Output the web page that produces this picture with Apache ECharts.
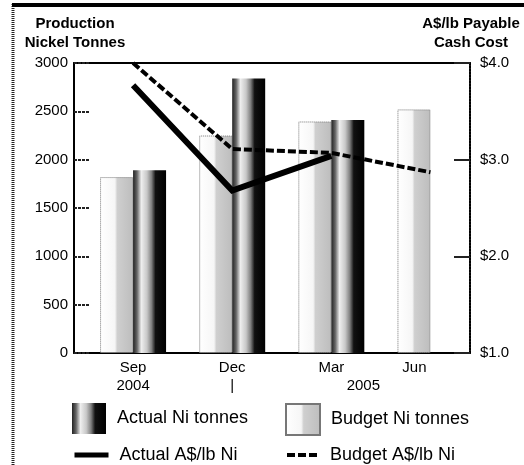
<!DOCTYPE html>
<html><head><meta charset="utf-8">
<script src="https://cdn.jsdelivr.net/npm/echarts@6/dist/echarts.min.js"></script>
<style>html,body{margin:0;padding:0;background:#fff}#c{width:524px;height:465px}</style>
</head><body><div id="c"></div>
<script>
// ---- data ----
const categories = ['Sep', 'Dec', 'Mar', 'Jun'];
const yearLabels = ['2004', '|', '2005', ''];
const budgetTonnes = [1820, 2250, 2395, 2520];
const actualTonnes = [1890, 2840, 2410, null];
const actualCost = [3.77, 2.68, 3.04, null];
const budgetCost = [4.0, 3.11, 3.07, 2.87];
const leftAxisRange = [0, 3000, 500];
const rightAxisRange = [1, 4, 1];
const leftAxisTitle = 'Production\nNickel Tonnes';
const rightAxisTitle = 'A$/lb Payable\nCash Cost';
const seriesNames = ['Budget Ni tonnes', 'Actual Ni tonnes', 'Actual A$/lb Ni', 'Budget A$/lb Ni'];

const FONT = '"Liberation Sans", Arial, sans-serif';
const chart = echarts.init(document.getElementById('c'), null, {renderer: 'canvas'});

const budgetFill = new echarts.graphic.LinearGradient(0, 0, 1, 0, [
  {offset: 0, color: '#ffffff'}, {offset: 0.45, color: '#f6f6f6'},
  {offset: 0.52, color: '#cfcfcf'}, {offset: 1, color: '#bdbdbd'}
]);
const actualFill = new echarts.graphic.LinearGradient(0, 0, 1, 0, [
  {offset: 0, color: '#222'}, {offset: 0.12, color: '#666'},
  {offset: 0.25, color: '#eeeeee'}, {offset: 0.42, color: '#c8c8c8'},
  {offset: 0.56, color: '#808080'}, {offset: 0.68, color: '#111'},
  {offset: 1, color: '#000'}
]);

const legendBase = {
  orient: 'horizontal', padding: 0, itemGap: 0, selectedMode: false,
  textStyle: {fontFamily: FONT, fontSize: 18, color: '#000', padding: [0, 0, 0, 6]}
};
const titleStyle = {fontFamily: FONT, fontWeight: 'bold', fontSize: 15, lineHeight: 19,
  fill: '#000', align: 'center', verticalAlign: 'top'};
const hiddenAxis = {show: false, axisLine: {show: false, onZero: false}, axisTick: {show: false},
  axisLabel: {show: false}, splitLine: {show: false}};

const option = {
  backgroundColor: '#fff',
  animation: false,
  textStyle: {fontFamily: FONT},
  grid: [
    {left: 74, right: 54, top: 63, bottom: 112},
    {left: 83.5, right: 44, top: 63, bottom: 112}
  ],
  xAxis: [
    {gridIndex: 0, type: 'value', min: 0, max: 1, position: 'bottom',
      axisLine: {show: true, onZero: false, lineStyle: {color: '#000', width: 2}},
      axisTick: {show: false}, axisLabel: {show: false}, splitLine: {show: false}},
    {gridIndex: 0, type: 'value', min: 0, max: 1, position: 'top',
      axisLine: {show: true, onZero: false, lineStyle: {color: '#000', width: 2}},
      axisTick: {show: false}, axisLabel: {show: false}, splitLine: {show: false}},
    {gridIndex: 1, type: 'category', data: categories, position: 'bottom',
      axisLine: {show: false, onZero: false}, axisTick: {show: false}, splitLine: {show: false},
      axisLabel: {
        margin: 6, color: '#000',
        formatter: function (v, i) {
          const top = (i === 3) ? '{mj|' + v + '}' : '{m|' + v + '}';
          const yr = yearLabels[i];
          const bottom = (i === 2) ? '{yp|' + yr + '}' : '{y|' + (yr || ' ') + '}';
          return top + '\n' + bottom;
        },
        rich: {
          m: {fontSize: 15, lineHeight: 18, fontFamily: FONT, color: '#000'},
          mj: {fontSize: 15, lineHeight: 18, fontFamily: FONT, color: '#000', padding: [0, 32, 0, 0]},
          y: {fontSize: 15, lineHeight: 18, fontFamily: FONT, color: '#000'},
          yp: {fontSize: 15, lineHeight: 18, fontFamily: FONT, color: '#000', padding: [0, 0, 0, 64]}
        }
      }}
  ],
  yAxis: [
    {gridIndex: 0, type: 'value', position: 'left',
      min: leftAxisRange[0], max: leftAxisRange[1], interval: leftAxisRange[2],
      axisLine: {show: true, onZero: false, lineStyle: {color: '#000', width: 2}},
      axisTick: {show: true, inside: true, length: 16, lineStyle: {color: '#222', width: 2, type: [3, 1]}},
      axisLabel: {margin: 6, fontSize: 15, color: '#000', fontFamily: FONT,
        formatter: function (v) { return String(v); }},
      splitLine: {show: false}},
    {gridIndex: 0, type: 'value', position: 'right',
      min: rightAxisRange[0], max: rightAxisRange[1], interval: rightAxisRange[2],
      axisLine: {show: true, onZero: false, lineStyle: {color: '#000', width: 2, type: [2, 1]}},
      axisTick: {show: true, inside: true, length: 16, lineStyle: {color: '#222', width: 2}},
      axisLabel: {margin: 10, fontSize: 15, color: '#000', fontFamily: FONT,
        formatter: function (v) { return '$' + v.toFixed(1); }},
      splitLine: {show: false}},
    Object.assign({gridIndex: 1, type: 'value', position: 'left',
      min: leftAxisRange[0], max: leftAxisRange[1], interval: leftAxisRange[2]}, hiddenAxis),
    Object.assign({gridIndex: 1, type: 'value', position: 'right',
      min: rightAxisRange[0], max: rightAxisRange[1], interval: rightAxisRange[2]}, hiddenAxis)
  ],
  legend: [
    Object.assign({}, legendBase, {data: [{name: seriesNames[1], icon: 'rect'}], left: 72, top: 403, itemWidth: 34, itemHeight: 31}),
    Object.assign({}, legendBase, {data: [{name: seriesNames[0], icon: 'rect'}], left: 285, top: 403, itemWidth: 34, itemHeight: 31}),
    Object.assign({}, legendBase, {data: [seriesNames[2]], left: 72, top: 446, itemWidth: 34, itemHeight: 14,
      itemStyle: {opacity: 0}, lineStyle: {width: 5, color: '#000'}}),
    Object.assign({}, legendBase, {data: [seriesNames[3]], left: 285, top: 446, itemWidth: 32, itemHeight: 14,
      itemStyle: {opacity: 0}, lineStyle: {width: 4, color: '#000', type: [8, 3]}})
  ],
  series: [
    {name: seriesNames[0], type: 'bar', xAxisIndex: 2, yAxisIndex: 2, data: budgetTonnes,
      barWidth: 33, barGap: '0%',
      itemStyle: {color: budgetFill, borderColor: '#777', borderWidth: 1, borderType: 'dotted'}},
    {name: seriesNames[1], type: 'bar', xAxisIndex: 2, yAxisIndex: 2, data: actualTonnes,
      barWidth: 33, barGap: '0%',
      itemStyle: {color: actualFill}},
    {name: seriesNames[2], type: 'line', xAxisIndex: 2, yAxisIndex: 3, data: actualCost,
      symbol: 'none', showSymbol: false,
      lineStyle: {color: '#000', width: 6, cap: 'butt', join: 'miter'},
      itemStyle: {color: '#000'}},
    {name: seriesNames[3], type: 'line', xAxisIndex: 2, yAxisIndex: 3, data: budgetCost,
      symbol: 'none', showSymbol: false,
      lineStyle: {color: '#000', width: 4, type: [8, 3]},
      itemStyle: {color: '#000'}}
  ],
  graphic: [
    {type: 'line', silent: true, shape: {x1: 13, y1: 4, x2: 13, y2: 465},
      style: {stroke: '#222', lineWidth: 3, lineDash: [1, 1]}},
    {type: 'line', silent: true, shape: {x1: 12, y1: 5, x2: 524, y2: 5},
      style: {stroke: '#000', lineWidth: 4}},
    {type: 'text', silent: true, x: 75, y: 14, style: Object.assign({text: leftAxisTitle}, titleStyle)},
    {type: 'text', silent: true, x: 471, y: 14, style: Object.assign({text: rightAxisTitle}, titleStyle)}
  ]
};
chart.setOption(option);
</script>
</body></html>
